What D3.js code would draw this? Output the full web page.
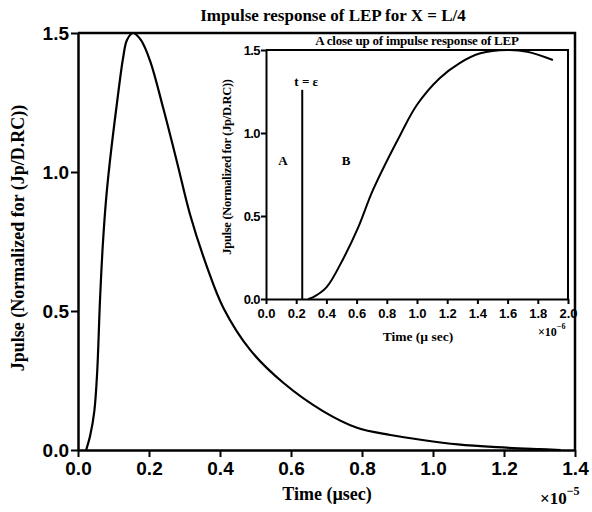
<!DOCTYPE html>
<html>
<head>
<meta charset="utf-8">
<script src="https://cdn.jsdelivr.net/npm/d3@7"></script>
<style>
  body { margin: 0; background: #fff; }
  svg { font-family: "Liberation Serif", "DejaVu Serif", serif; }
  .axis path, .axis line { stroke: #000; }
  .axis text { fill: #000; font-weight: bold; }
</style>
</head>
<body>
<div id="chart"></div>
<script>
// Main curve: time (x1e-5 s) vs normalized Jpulse
const mainTime = [0.023, 0.034, 0.046, 0.054, 0.062, 0.07, 0.079, 0.09, 0.11, 0.127, 0.138, 0.155, 0.177, 0.203, 0.24, 0.28, 0.315, 0.363, 0.41, 0.485, 0.58, 0.69, 0.786, 0.88, 0.97, 1.07, 1.18, 1.30, 1.36];
const mainPulse = [0, 0.05, 0.14, 0.28, 0.54, 0.74, 0.9, 1.04, 1.25, 1.41, 1.475, 1.5, 1.475, 1.40, 1.23, 1.03, 0.85, 0.66, 0.51, 0.36, 0.24, 0.14, 0.08, 0.054, 0.036, 0.02, 0.01, 0.003, 0.0];

// Close-up: time (x1e-6 s)
const insetTime = [0.28, 0.31, 0.40, 0.51, 0.61, 0.71, 0.89, 1.0, 1.15, 1.28, 1.42, 1.60, 1.73, 1.90];
const insetPulse = [0, 0.01, 0.07, 0.24, 0.43, 0.66, 0.99, 1.17, 1.33, 1.42, 1.48, 1.50, 1.49, 1.44];

const epsTime = 0.24;     // t = epsilon marker
const epsTop = 1.26;

const mainXTicks = [0, 0.2, 0.4, 0.6, 0.8, 1.0, 1.2, 1.4];
const mainYTicks = [0, 0.5, 1.0, 1.5];
const insetXTicks = [0, 0.2, 0.4, 0.6, 0.8, 1.0, 1.2, 1.4, 1.6, 1.8, 2.0];
const insetYTicks = [0, 0.5, 1.0, 1.5];

const width = 592, height = 512;

const svg = d3.select('#chart').append('svg')
    .attr('width', width)
    .attr('height', height);

// ---- main plot ----
const x = d3.scaleLinear().domain([0, 1.4]).range([78, 575]);
const y = d3.scaleLinear().domain([0, 1.5]).range([450, 33]);

const fmt = d3.format('.1f');

svg.append('g')
    .classed('axis', true)
    .attr('transform', `translate(0, ${y(0)})`)
    .call(d3.axisBottom(x).tickValues(mainXTicks).tickFormat(fmt).tickSize(7).tickSizeOuter(0).tickPadding(5))
    .call(g => g.select('.domain').attr('stroke-width', 2.5))
    .call(g => g.selectAll('.tick line').attr('stroke-width', 2))
    .call(g => g.selectAll('text').attr('font-size', 19));

svg.append('g')
    .classed('axis', true)
    .attr('transform', `translate(${x(0)}, 0)`)
    .call(d3.axisLeft(y).tickValues(mainYTicks).tickFormat(fmt).tickSize(7).tickSizeOuter(0).tickPadding(2))
    .call(g => g.select('.domain').attr('stroke-width', 2.5))
    .call(g => g.selectAll('.tick line').attr('stroke-width', 2))
    .call(g => g.selectAll('text').attr('font-size', 19));

// top and right frame
svg.append('path')
    .attr('d', `M${x(0)},${y(1.5)}H${x(1.4)}V${y(0)}`)
    .attr('fill', 'none')
    .attr('stroke', '#000')
    .attr('stroke-width', 2.5);

const line = d3.line()
    .curve(d3.curveCatmullRom.alpha(0.5));

svg.append('path')
    .datum(d3.zip(mainTime, mainPulse))
    .attr('d', line.x(d => x(d[0])).y(d => y(d[1])))
    .attr('fill', 'none')
    .attr('stroke', '#000')
    .attr('stroke-width', 2.2);

svg.append('text')
    .attr('x', 333).attr('y', 21)
    .attr('text-anchor', 'middle')
    .attr('font-size', 17).attr('font-weight', 'bold')
    .text('Impulse response of LEP for X = L/4');

svg.append('text')
    .attr('transform', 'translate(24, 238) rotate(-90)')
    .attr('text-anchor', 'middle')
    .attr('font-size', 18).attr('font-weight', 'bold')
    .text('Jpulse (Normalized for (Jp/D.RC))');

svg.append('text')
    .attr('x', 327).attr('y', 500)
    .attr('text-anchor', 'middle')
    .attr('font-size', 18).attr('font-weight', 'bold')
    .text('Time (\u00b5sec)');

const mainExp = svg.append('text')
    .attr('x', 540).attr('y', 504)
    .attr('font-size', 17).attr('font-weight', 'bold');
mainExp.append('tspan').text('\u00d710');
mainExp.append('tspan').attr('dy', -9).attr('font-size', 12).text('\u22125');

// ---- inset close-up ----
const ix = d3.scaleLinear().domain([0, 2.0]).range([266, 568]);
const iy = d3.scaleLinear().domain([0, 1.5]).range([299, 50]);

svg.append('g')
    .classed('axis', true)
    .attr('transform', `translate(0, ${iy(0)})`)
    .call(d3.axisBottom(ix).tickValues(insetXTicks).tickFormat(fmt).tickSize(5).tickSizeOuter(0).tickPadding(5))
    .call(g => g.select('.domain').attr('stroke-width', 2))
    .call(g => g.selectAll('.tick line').attr('stroke-width', 2))
    .call(g => g.selectAll('text').attr('font-size', 13));

svg.append('g')
    .classed('axis', true)
    .attr('transform', `translate(${ix(0)}, 0)`)
    .call(d3.axisLeft(iy).tickValues(insetYTicks).tickFormat(fmt).tickSize(5).tickSizeOuter(0).tickPadding(1))
    .call(g => g.select('.domain').attr('stroke-width', 2))
    .call(g => g.selectAll('.tick line').attr('stroke-width', 2))
    .call(g => g.selectAll('text').attr('font-size', 13).attr('letter-spacing', -0.6));

svg.append('path')
    .attr('d', `M${ix(0)},${iy(1.5)}H${ix(2.0)}V${iy(0)}`)
    .attr('fill', 'none')
    .attr('stroke', '#000')
    .attr('stroke-width', 2);

svg.append('path')
    .datum(d3.zip(insetTime, insetPulse))
    .attr('d', line.x(d => ix(d[0])).y(d => iy(d[1])))
    .attr('fill', 'none')
    .attr('stroke', '#000')
    .attr('stroke-width', 2);

svg.append('line')
    .attr('x1', ix(epsTime)).attr('x2', ix(epsTime))
    .attr('y1', iy(0)).attr('y2', iy(epsTop))
    .attr('stroke', '#000')
    .attr('stroke-width', 2);

svg.append('text')
    .attr('x', ix(epsTime) + 4).attr('y', iy(epsTop) - 4)
    .attr('text-anchor', 'middle')
    .attr('font-size', 13).attr('font-weight', 'bold')
    .text('t = \u03b5');

svg.append('text')
    .attr('x', 283).attr('y', 165)
    .attr('text-anchor', 'middle')
    .attr('font-size', 13).attr('font-weight', 'bold')
    .text('A');

svg.append('text')
    .attr('x', 346).attr('y', 165)
    .attr('text-anchor', 'middle')
    .attr('font-size', 13).attr('font-weight', 'bold')
    .text('B');

svg.append('text')
    .attr('x', 417).attr('y', 45)
    .attr('text-anchor', 'middle')
    .attr('font-size', 13).attr('font-weight', 'bold')
    .attr('letter-spacing', -0.2)
    .text('A close up of impulse response of LEP');

svg.append('text')
    .attr('transform', 'translate(231, 167) rotate(-90)')
    .attr('text-anchor', 'middle')
    .attr('font-size', 12.5).attr('font-weight', 'bold')
    .attr('letter-spacing', -0.3)
    .text('Jpulse (Normalized for (Jp/D.RC))');

svg.append('text')
    .attr('x', 418).attr('y', 341)
    .attr('text-anchor', 'middle')
    .attr('font-size', 13.5).attr('font-weight', 'bold')
    .text('Time (\u00b5 sec)');

const insetExp = svg.append('text')
    .attr('x', 538).attr('y', 336)
    .attr('font-size', 12).attr('font-weight', 'bold');
insetExp.append('tspan').text('\u00d710');
insetExp.append('tspan').attr('dy', -7).attr('font-size', 8).text('\u22126');
</script>
</body>
</html>
